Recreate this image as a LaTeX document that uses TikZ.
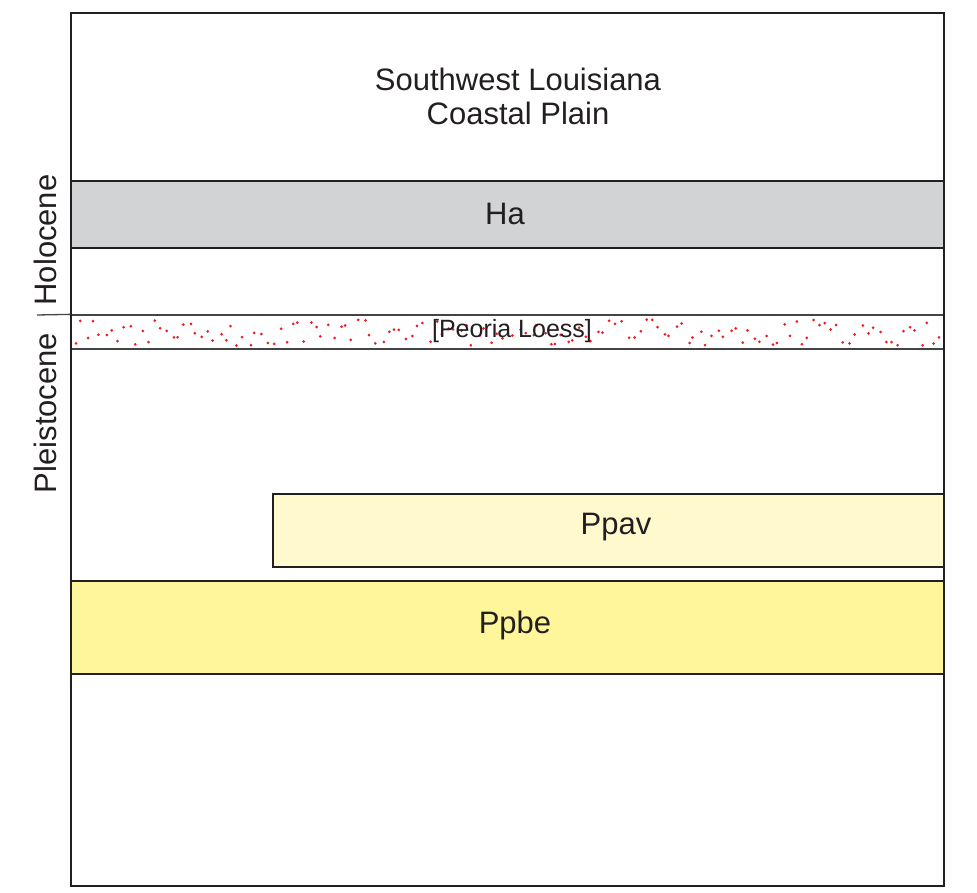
\documentclass[tikz,border=0pt]{standalone}
\usepackage{fontspec}
\setmainfont{Liberation Sans}
\definecolor{ink}{HTML}{231F20}
\definecolor{hagray}{HTML}{D1D3D4}
\definecolor{ppavfill}{HTML}{FFF9CD}
\definecolor{ppbefill}{HTML}{FFF59B}
\definecolor{dotred}{HTML}{ED1C24}
\definecolor{linegray}{HTML}{444444}
\begin{document}
\begin{tikzpicture}[x=1pt,y=-1pt,
  unitbox/.style={draw=ink,line width=1.6pt,rectangle,inner sep=0pt},
  lbl/.style={text=ink,font=\fontsize{31}{34}\selectfont,inner sep=0pt,align=center},
  sidelbl/.style={text=ink,font=\fontsize{31}{37}\selectfont,inner sep=0pt,rotate=90}]
\useasboundingbox (0,0) rectangle (977,893);
% bands
\node[unitbox,fill=hagray,minimum width=873pt,minimum height=67pt] (ha) at (507.5,214.5) {};
\node[lbl] (hatxt) at (505,214) {Ha};
\node[unitbox,fill=ppavfill,minimum width=671pt,minimum height=73pt] (ppav) at (608.5,530.5) {};
\node[lbl] (ppavtxt) at (616,527) {Ppav};
\node[unitbox,fill=ppbefill,minimum width=873pt,minimum height=93pt] (ppbe) at (507.5,627.5) {};
\node[lbl] (ppbetxt) at (515,625) {Ppbe};
% loess band
\node[draw=linegray,line width=1.3pt,rectangle,inner sep=0pt,minimum width=873pt,minimum height=34pt] (loess) at (507.5,332) {};
\pgfmathsetseed{5}
\foreach \i in {0,...,144} {
  \pgfmathsetmacro\dx{74+6*\i+4*rnd}
  \pgfmathsetmacro\dy{319.5+26*rnd}
  \fill[dotred] (\dx,\dy) circle (1.5pt);
}
\node[text=ink,font=\fontsize{25}{30}\selectfont,inner sep=0pt] (loesstxt) at (512,331) {[Peoria Loess]};
% frame
\node[unitbox,minimum width=873pt,minimum height=873pt] (frame) at (507.5,449.5) {};
% title
\node[lbl] (title) at (518,96) {Southwest Louisiana\\Coastal Plain};
% epoch divider and labels
\coordinate (divl) at (37,315);
\draw[linegray,line width=1.3pt] (divl) -- (loess.north west);
\node[sidelbl] (holo) at (45,240) {Holocene};
\node[sidelbl] (pleis) at (45,413) {Pleistocene};
\end{tikzpicture}
\end{document}
